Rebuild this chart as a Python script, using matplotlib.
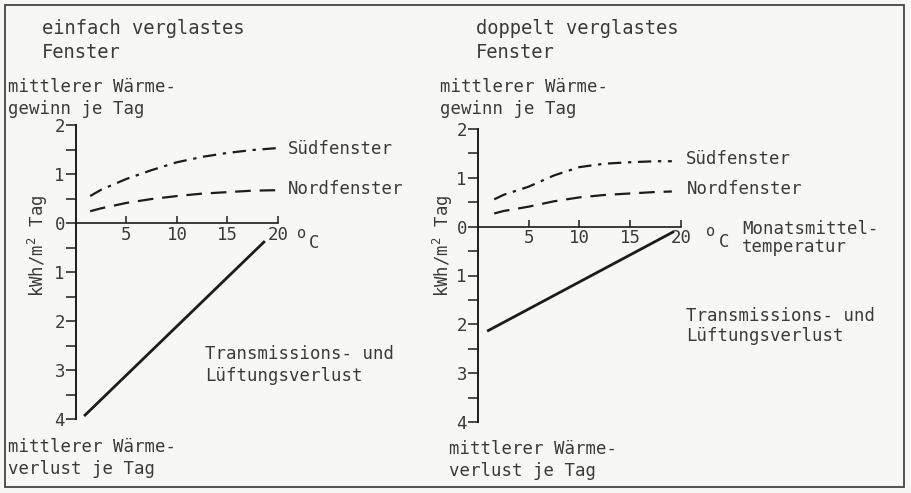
import matplotlib
matplotlib.use("Agg")
import matplotlib.pyplot as plt
from matplotlib.patches import Rectangle
from matplotlib.ticker import FixedLocator, MultipleLocator, FuncFormatter

# Daten
temp_links = [1.4, 2.5, 5, 7.5, 10, 12.5, 15, 17.5, 20]
sued_links = [0.55, 0.68, 0.90, 1.08, 1.24, 1.35, 1.43, 1.49, 1.53]
nord_links = [0.24, 0.30, 0.41, 0.49, 0.55, 0.60, 0.63, 0.66, 0.67]
verlust_temp_links = [0.8, 18.7]
verlust_links = [3.94, 0.37]

temp_rechts = [1.6, 2.5, 5, 7.5, 10, 12.5, 15, 17.5, 19.1]
sued_rechts = [0.56, 0.65, 0.82, 1.05, 1.22, 1.29, 1.32, 1.34, 1.34]
nord_rechts = [0.27, 0.32, 0.41, 0.52, 0.60, 0.65, 0.68, 0.71, 0.72]
verlust_temp_rechts = [0.9, 19.3]
verlust_rechts = [2.14, 0.10]

x_ticks = [5, 10, 15, 20]
y_ticks = [-4, -3, -2, -1, 0, 1, 2]

W, H = 912, 493
INK = "#1c1c1c"
TXT = "#3a3a3a"
FONT = "DejaVu Sans Mono"

plt.rcParams["font.family"] = FONT
plt.rcParams["mathtext.default"] = "regular"

fig = plt.figure(figsize=(W / 100, H / 100), dpi=100)
fig.patch.set_facecolor("#f7f7f5")

# Rahmen
fig.add_artist(Rectangle((5 / W, 1 - 487 / H), 899 / W, 482 / H,
                         transform=fig.transFigure, fill=False,
                         edgecolor="#444444", lw=1.3))


def txt(x, y, s, size=12.5, **kw):
    fig.text(x / W, 1 - y / H, s, fontsize=size, color=TXT,
             va="center", ha="left", **kw)


def panel(x0, x1, y_top, y_bot, temp, sued, nord, vt, vl):
    ax = fig.add_axes([x0 / W, 1 - y_bot / H, (x1 - x0) / W, (y_bot - y_top) / H])
    ax.set_facecolor("none")
    ax.set_xlim(0, 20)
    ax.set_ylim(-4, 2)
    for s in ("top", "right"):
        ax.spines[s].set_visible(False)
    ax.spines["left"].set_color(INK)
    ax.spines["left"].set_linewidth(1.4)
    ax.spines["bottom"].set_position(("data", 0))
    ax.spines["bottom"].set_color(INK)
    ax.spines["bottom"].set_linewidth(1.2)

    ax.yaxis.set_major_locator(FixedLocator(y_ticks))
    ax.yaxis.set_minor_locator(MultipleLocator(0.5))
    ax.yaxis.set_major_formatter(FuncFormatter(lambda v, p: "%d" % abs(v)))
    ax.tick_params(axis="y", which="both", direction="out", length=7,
                   width=1.1, color=INK, labelsize=12.5, labelcolor=TXT, pad=1)
    ax.xaxis.set_major_locator(FixedLocator(x_ticks))
    ax.tick_params(axis="x", direction="in", length=5, width=1.1, color=INK,
                   labelsize=12.5, labelcolor=TXT, pad=2)

    ax.plot(temp, sued, color=INK, lw=1.6, dashes=(6, 3, 1.5, 3), clip_on=False)
    ax.plot(temp, nord, color=INK, lw=1.6, dashes=(7, 4), clip_on=False)
    ax.plot(vt, [-v for v in vl], color=INK, lw=2.0, clip_on=False,
            solid_capstyle="butt")
    return ax


panel(76, 278, 125, 419, temp_links, sued_links, nord_links,
      verlust_temp_links, verlust_links)
panel(478, 681, 129, 422, temp_rechts, sued_rechts, nord_rechts,
      verlust_temp_rechts, verlust_rechts)

# Texte linkes Diagramm
txt(42, 29, "einfach verglastes", size=13.5)
txt(42, 53, "Fenster", size=13.5)
txt(8, 87, "mittlerer Wärme-")
txt(8, 109, "gewinn je Tag")
txt(288, 149, "Südfenster")
txt(288, 189, "Nordfenster")
txt(297, 233, "o", size=11)
txt(309, 243, "C")
txt(205, 354, "Transmissions- und")
txt(205, 376, "Lüftungsverlust")
txt(8, 447, "mittlerer Wärme-")
txt(8, 469, "verlust je Tag")
fig.text(38 / W, 1 - 246 / H, "kWh/m$^{2}$ Tag", fontsize=12.5, color=TXT,
         rotation=90, ha="center", va="center")

# Texte rechtes Diagramm
txt(476, 29, "doppelt verglastes", size=13.5)
txt(476, 53, "Fenster", size=13.5)
txt(440, 87, "mittlerer Wärme-")
txt(440, 109, "gewinn je Tag")
txt(686, 159, "Südfenster")
txt(687, 189, "Nordfenster")
txt(706, 231, "o", size=11)
txt(719, 242, "C")
txt(742, 229, "Monatsmittel-")
txt(742, 247, "temperatur")
txt(686, 316, "Transmissions- und")
txt(686, 336, "Lüftungsverlust")
txt(449, 449, "mittlerer Wärme-")
txt(449, 471, "verlust je Tag")
fig.text(443 / W, 1 - 246 / H, "kWh/m$^{2}$ Tag", fontsize=12.5, color=TXT,
         rotation=90, ha="center", va="center")

fig.savefig("out.png", dpi=100, facecolor=fig.get_facecolor())
